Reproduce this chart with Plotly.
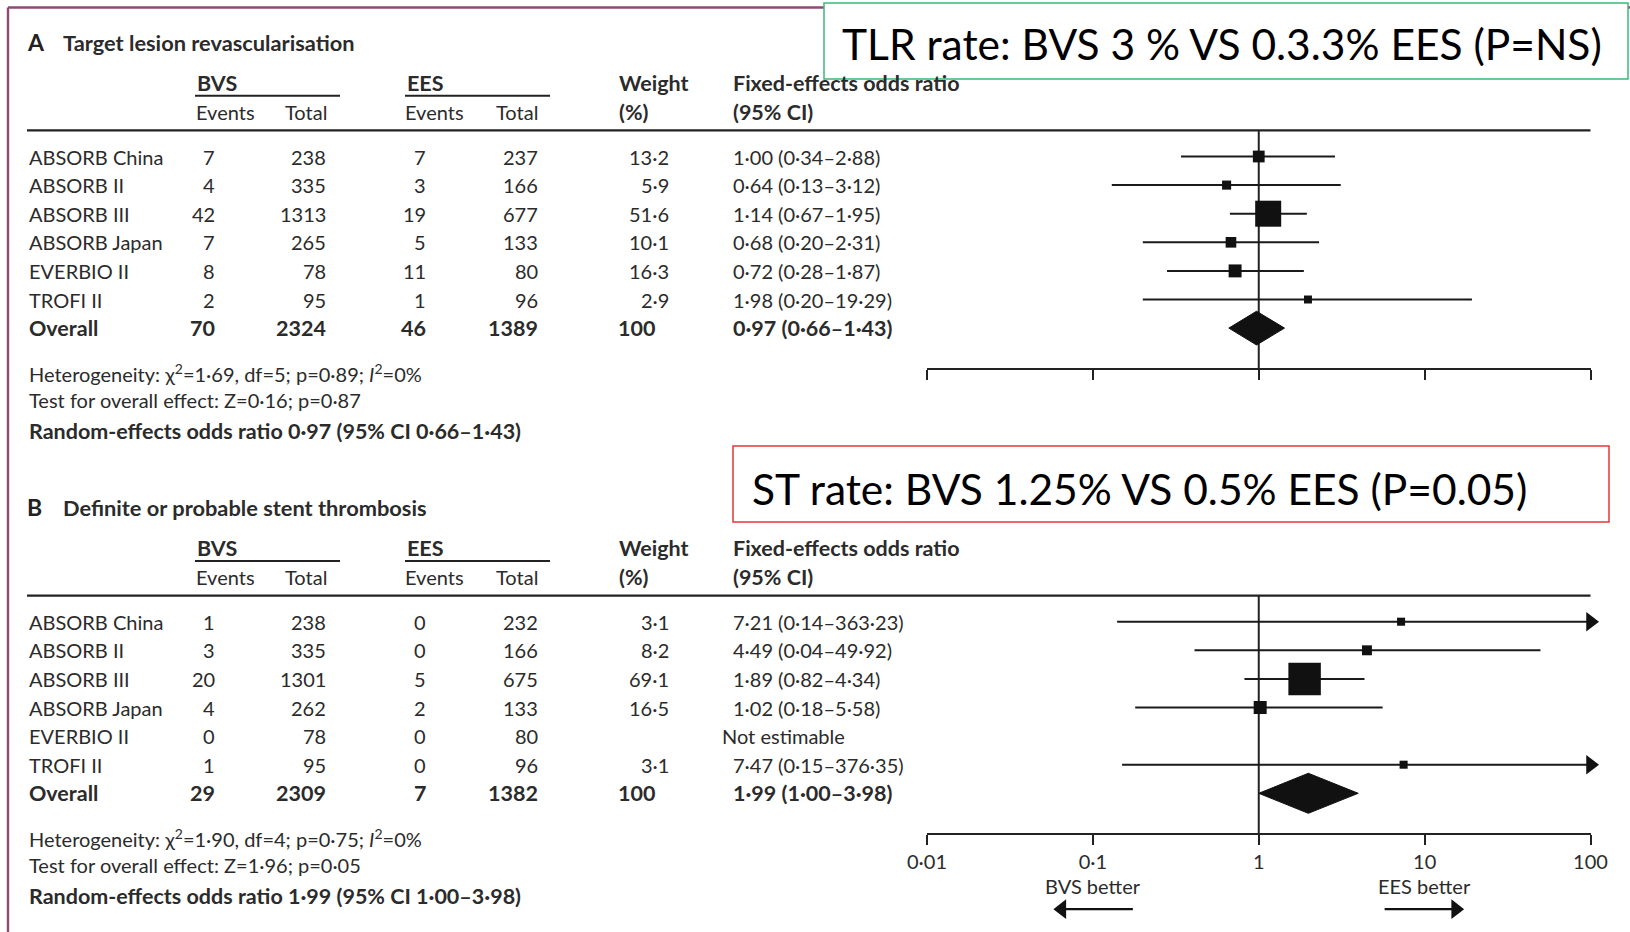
import math
import plotly.graph_objects as go

W, H = 1630, 932

# ---------------- data ----------------
studies = ["ABSORB China", "ABSORB II", "ABSORB III", "ABSORB Japan", "EVERBIO II", "TROFI II"]

# Panel A: target lesion revascularisation
a_bvs_events = [7, 4, 42, 7, 8, 2]
a_bvs_total = [238, 335, 1313, 265, 78, 95]
a_ees_events = [7, 3, 19, 5, 11, 1]
a_ees_total = [237, 166, 677, 133, 80, 96]
a_weight = [13.2, 5.9, 51.6, 10.1, 16.3, 2.9]
a_or = [1.00, 0.64, 1.14, 0.68, 0.72, 1.98]
a_lo = [0.34, 0.13, 0.67, 0.20, 0.28, 0.20]
a_hi = [2.88, 3.12, 1.95, 2.31, 1.87, 19.29]
a_overall_counts = [70, 2324, 46, 1389]
a_overall_or = [0.97, 0.66, 1.43]
a_notes = ["Heterogeneity: χ<sup>2</sup>=1·69, df=5; p=0·89; <i>I</i><sup>2</sup>=0%",
           "Test for overall effect: Z=0·16; p=0·87",
           "Random-effects odds ratio 0·97 (95% CI 0·66–1·43)"]

# Panel B: definite or probable stent thrombosis
b_bvs_events = [1, 3, 20, 4, 0, 1]
b_bvs_total = [238, 335, 1301, 262, 78, 95]
b_ees_events = [0, 0, 5, 2, 0, 0]
b_ees_total = [232, 166, 675, 133, 80, 96]
b_weight = [3.1, 8.2, 69.1, 16.5, None, 3.1]
b_or = [7.21, 4.49, 1.89, 1.02, None, 7.47]
b_lo = [0.14, 0.04, 0.82, 0.18, None, 0.15]          # as printed
b_hi = [363.23, 49.92, 4.34, 5.58, None, 376.35]
b_lo_drawn = [0.14, 0.41, 0.82, 0.18, None, 0.15]    # as drawn in the plot
b_overall_counts = [29, 2309, 7, 1382]
b_overall_or = [1.99, 1.00, 3.98]
b_notes = ["Heterogeneity: χ<sup>2</sup>=1·90, df=4; p=0·75; <i>I</i><sup>2</sup>=0%",
           "Test for overall effect: Z=1·96; p=0·05",
           "Random-effects odds ratio 1·99 (95% CI 1·00–3·98)"]

tick_vals = [0.01, 0.1, 1, 10, 100]
tick_text = ["0·01", "0·1", "1", "10", "100"]
favours = [("BVS better", 0.1, -1), ("EES better", 10, 1)]

# ---------------- layout geometry ----------------
FONT = "Lato, 'Liberation Sans', Arial, sans-serif"
TXT = "#2b2b2b"
FS = 20
FSB = 21.5
X_L, X_R = 927, 1590.5          # pixel positions of 0.01 and 100
SP = 28.6                       # row pitch in px
ROW0 = {"A": 156.5, "B": 621.7}  # px of first study row
R_TITLE, R_H1, R_UL, R_H2, R_LINE, R_AXIS = -4.0, -2.58, -2.12, -1.55, -0.91, 7.43
R_NOTES = [7.57, 8.52, 9.59]
PPD = (X_R - X_L) / 4           # px per decade

def xp(px):
    return px / W

def yp(px):
    return 1 - px / H

def fmt(v, d=2):
    return f"{v:.{d}f}".replace(".", "·")

def box_size(w):
    return 6.9 + 0.37 * w

fig = go.Figure()
annotations = []
shapes = []


def add_text(text, xpx, yrow, yref, anchor="left", bold=False, size=None, color=TXT):
    if size is None:
        size = FSB if bold else FS
    annotations.append(dict(
        text=f"<b>{text}</b>" if bold else text, x=xp(xpx), xref="paper", y=yrow, yref=yref,
        xanchor=anchor, yanchor="middle", showarrow=False,
        font=dict(family=FONT, size=size, color=color)))


def panel(key, xa, ya, title, bvs_e, bvs_t, ees_e, ees_t, weight, orv, lo, hi, lo_drawn,
          overall_counts, overall_or, notes, diamond_h):
    yref = ya
    # titles & headers
    add_text(key, 25, R_TITLE, yref, bold=True, size=23, color="#222")
    add_text(title, 61, R_TITLE, yref, bold=True, size=21.8)
    add_text("BVS", 195, R_H1, yref, bold=True)
    add_text("EES", 405, R_H1, yref, bold=True)
    add_text("Weight", 617, R_H1, yref, bold=True)
    add_text("Fixed-effects odds ratio", 731, R_H1, yref, bold=True)
    add_text("Events", 194, R_H2, yref)
    add_text("Total", 283, R_H2, yref)
    add_text("Events", 403, R_H2, yref)
    add_text("Total", 494, R_H2, yref)
    add_text("(%)", 617, R_H2, yref, bold=True)
    add_text("(95% CI)", 731, R_H2, yref, bold=True)
    for x0, x1 in [(195, 340), (405, 550)]:
        shapes.append(dict(type="line", xref="paper", yref=yref, x0=xp(x0), x1=xp(x1),
                           y0=R_UL, y1=R_UL, line=dict(color="#222", width=2)))
    shapes.append(dict(type="line", xref="paper", yref=yref, x0=xp(27), x1=xp(1590.5),
                       y0=R_LINE, y1=R_LINE, line=dict(color="#222", width=2.2)))
    # rows
    for i, s in enumerate(studies):
        add_text(s, 27, i, yref)
        add_text(str(bvs_e[i]), 217, i, yref, anchor="right")
        add_text(str(bvs_t[i]), 328, i, yref, anchor="right")
        add_text(str(ees_e[i]), 428, i, yref, anchor="right")
        add_text(str(ees_t[i]), 540, i, yref, anchor="right")
        if weight[i] is not None:
            add_text(fmt(weight[i], 1), 670.5, i, yref, anchor="right")
            add_text(f"{fmt(orv[i])} ({fmt(lo[i])}–{fmt(hi[i])})", 731, i, yref)
        else:
            add_text("Not estimable", 720, i, yref)
    n = len(studies)
    add_text("Overall", 27, n, yref, bold=True)
    add_text(str(overall_counts[0]), 217, n, yref, anchor="right", bold=True)
    add_text(str(overall_counts[1]), 328, n, yref, anchor="right", bold=True)
    add_text(str(overall_counts[2]), 428, n, yref, anchor="right", bold=True)
    add_text(str(overall_counts[3]), 540, n, yref, anchor="right", bold=True)
    add_text("100", 616, n, yref, bold=True)
    add_text(f"{fmt(overall_or[0])} ({fmt(overall_or[1])}–{fmt(overall_or[2])})", 731, n, yref, bold=True)
    for j, t in enumerate(notes):
        add_text(t, 27, R_NOTES[j], yref, bold=(j == 2))

    # reference line at OR = 1
    fig.add_trace(go.Scatter(x=[1, 1], y=[R_LINE, R_AXIS], mode="lines", xaxis=xa, yaxis=ya,
                             line=dict(color="#222", width=2), hoverinfo="skip", showlegend=False))
    # CI lines
    xs, ys, arr_x, arr_y = [], [], [], []
    for i in range(n):
        if orv[i] is None:
            continue
        h = hi[i]
        if h > tick_vals[-1]:
            h = tick_vals[-1]
            arr_x.append(h)
            arr_y.append(i)
        xs += [lo_drawn[i], h, None]
        ys += [i, i, None]
    fig.add_trace(go.Scatter(x=xs, y=ys, mode="lines", xaxis=xa, yaxis=ya, cliponaxis=False,
                             line=dict(color="#1a1a1a", width=2), hoverinfo="skip", showlegend=False))
    if arr_x:
        fig.add_trace(go.Scatter(x=arr_x, y=arr_y, mode="markers", xaxis=xa, yaxis=ya, cliponaxis=False,
                                 marker=dict(symbol="triangle-right", size=17, color="#111", opacity=1,
                                             line=dict(width=0)),
                                 hoverinfo="skip", showlegend=False))
    # squares
    sx = [orv[i] for i in range(n) if orv[i] is not None]
    sy = [i for i in range(n) if orv[i] is not None]
    ss = [box_size(weight[i]) for i in range(n) if orv[i] is not None]
    fig.add_trace(go.Scatter(x=sx, y=sy, mode="markers", xaxis=xa, yaxis=ya, cliponaxis=False,
                             marker=dict(symbol="square", size=ss, color="#111", opacity=1,
                                         line=dict(width=0)),
                             hoverinfo="skip", showlegend=False))
    # diamond
    o, l, u = overall_or
    fig.add_trace(go.Scatter(x=[l, o, u, o, l], y=[n, n - diamond_h, n, n + diamond_h, n],
                             mode="lines", fill="toself", fillcolor="#111", xaxis=xa, yaxis=ya,
                             line=dict(color="#111", width=1), hoverinfo="skip", showlegend=False))


panel("A", "x", "y", "Target lesion revascularisation", a_bvs_events, a_bvs_total, a_ees_events,
      a_ees_total, a_weight, a_or, a_lo, a_hi, a_lo, a_overall_counts, a_overall_or, a_notes, 0.59)
panel("B", "x2", "y2", "Definite or probable stent thrombosis", b_bvs_events, b_bvs_total, b_ees_events,
      b_ees_total, b_weight, b_or, b_lo, b_hi, b_lo_drawn, b_overall_counts, b_overall_or, b_notes, 0.70)

# favours labels and arrows (panel B)
R_FAV, R_ARROW = 9.24, 10.05
for label, val, direction in favours:
    annotations.append(dict(text=label, x=math.log10(val), xref="x2", y=R_FAV, yref="y2",
                            xanchor="center", yanchor="middle", showarrow=False,
                            font=dict(family=FONT, size=FS, color=TXT)))
    c = math.log10(val)
    tail = 10 ** (c - direction * 40 / PPD)
    head = 10 ** (c + direction * 31 / PPD)
    fig.add_trace(go.Scatter(x=[tail, head], y=[R_ARROW, R_ARROW], mode="lines", xaxis="x2", yaxis="y2",
                             cliponaxis=False, line=dict(color="#111", width=2.2),
                             hoverinfo="skip", showlegend=False))
    fig.add_trace(go.Scatter(x=[head], y=[R_ARROW], mode="markers", xaxis="x2", yaxis="y2",
                             cliponaxis=False,
                             marker=dict(symbol="triangle-right" if direction > 0 else "triangle-left",
                                         size=17, color="#111", opacity=1, line=dict(width=0)),
                             hoverinfo="skip", showlegend=False))

# ---------------- overlay boxes ----------------
shapes.append(dict(type="line", xref="paper", yref="paper", x0=xp(8), x1=1, y0=yp(7.5), y1=yp(7.5),
                   line=dict(color="#8e4a75", width=2.4)))
shapes.append(dict(type="line", xref="paper", yref="paper", x0=xp(8), x1=xp(8), y0=yp(7.5), y1=0,
                   line=dict(color="#8e4a75", width=2.4)))
shapes.append(dict(type="rect", xref="paper", yref="paper", x0=xp(824), x1=xp(1628), y0=yp(3), y1=yp(79),
                   line=dict(color="#3cb878", width=1.5), fillcolor="white", layer="above"))
shapes.append(dict(type="rect", xref="paper", yref="paper", x0=xp(733), x1=xp(1609), y0=yp(446), y1=yp(522),
                   line=dict(color="#e8353a", width=1.5), fillcolor="white", layer="above"))
annotations.append(dict(text="TLR rate: BVS 3 % VS 0.3.3% EES (P=NS)", x=xp(840), xref="paper",
                        y=yp(44), yref="paper", xanchor="left", yanchor="middle", showarrow=False,
                        font=dict(family="Lato, 'Open Sans', sans-serif", size=42.5, color="#000")))
annotations.append(dict(text="ST rate: BVS 1.25% VS 0.5% EES (P=0.05)", x=xp(750), xref="paper",
                        y=yp(488), yref="paper", xanchor="left", yanchor="middle", showarrow=False,
                        font=dict(family="Lato, 'Open Sans', sans-serif", size=42.5, color="#000")))

# ---------------- axes ----------------
def xaxis_cfg(axis_row, row0, show_labels):
    return dict(type="log", range=[-2, 2], domain=[xp(X_L), xp(X_R)], anchor="free",
                position=yp(row0 + axis_row * SP), showline=True, linecolor="#222", linewidth=2,
                ticks="outside", ticklen=10, tickwidth=2, tickcolor="#222",
                tickvals=tick_vals, ticktext=tick_text, showticklabels=show_labels,
                tickfont=dict(family=FONT, size=FS, color=TXT), showgrid=False, zeroline=False,
                fixedrange=True, automargin=False)

def yaxis_cfg(row0):
    return dict(range=[(H - row0) / SP, -row0 / SP], domain=[0, 1], visible=False,
                showgrid=False, zeroline=False, fixedrange=True, automargin=False)

xa2 = xaxis_cfg(R_AXIS, ROW0["B"], True)
xa2["overlaying"] = "x"
ya2 = yaxis_cfg(ROW0["B"])
ya2["overlaying"] = "y"

fig.update_layout(
    width=W, height=H, margin=dict(l=0, r=0, t=0, b=0, pad=0, autoexpand=False),
    paper_bgcolor="white", plot_bgcolor="rgba(0,0,0,0)",
    xaxis=xaxis_cfg(R_AXIS, ROW0["A"], False), yaxis=yaxis_cfg(ROW0["A"]),
    xaxis2=xa2, yaxis2=ya2,
    annotations=annotations, shapes=shapes, showlegend=False,
)

fig.write_html("out.html", config={"displayModeBar": False},
               post_script="document.body.style.margin='0px';document.body.style.overflow='hidden';")
